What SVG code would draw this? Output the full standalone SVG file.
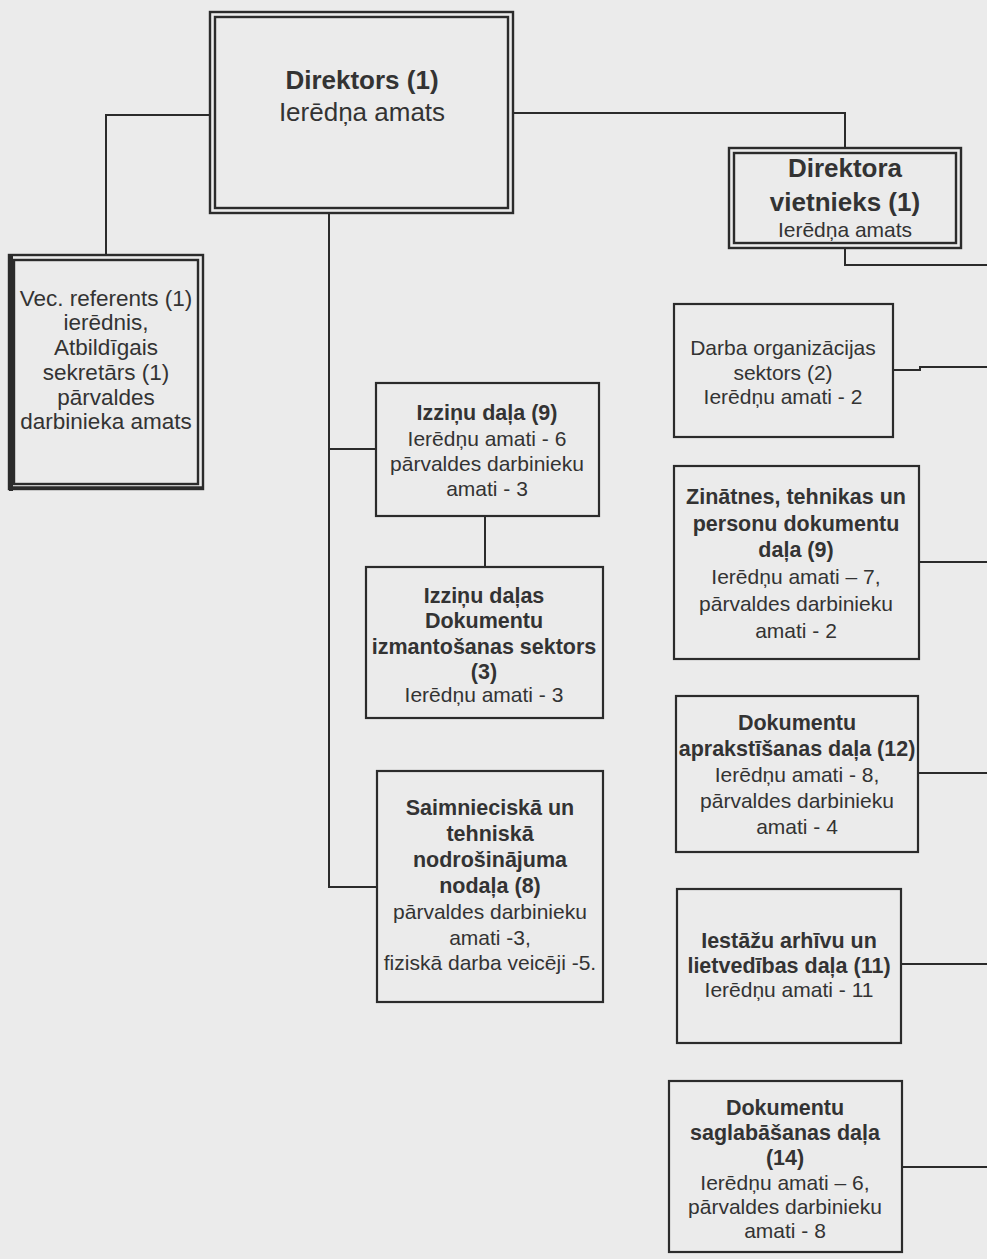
<svg xmlns="http://www.w3.org/2000/svg" width="987" height="1259" viewBox="0 0 987 1259">
<style>
.bg{fill:#ebebeb}
.box{fill:none;stroke:#2b2b2b;stroke-width:2.2}
.dbl{fill:none;stroke:#2b2b2b;stroke-width:2.4}
.con{fill:none;stroke:#2b2b2b;stroke-width:2}
text{font-family:"Liberation Sans",Arial,sans-serif;fill:#333;text-anchor:middle}
.t{font-size:21px}
.b{font-size:21.5px;font-weight:bold}
.big{font-size:26px}
.bigb{font-size:26px;font-weight:bold}
.l{font-size:22.5px}
</style>
<rect class="bg" x="0" y="0" width="987" height="1259"/>
<g id="connectors">
<polyline class="con" points="210,115 106,115 106,255"/>
<polyline class="con" points="513,113 845,113 845,148"/>
<polyline class="con" points="845,248 845,265 987,265"/>
<polyline class="con" points="329,213 329,887 377,887"/>
<line class="con" x1="329" y1="449" x2="376" y2="449"/>
<line class="con" x1="485" y1="516" x2="485" y2="567"/>
<polyline class="con" points="893,370 920,370 920,367 987,367"/>
<line class="con" x1="919" y1="562" x2="987" y2="562"/>
<line class="con" x1="918" y1="773" x2="987" y2="773"/>
<line class="con" x1="901" y1="964" x2="987" y2="964"/>
<line class="con" x1="902" y1="1167" x2="987" y2="1167"/>
</g>
<g id="direktors">
<rect class="dbl" x="210" y="12" width="303" height="201"/>
<rect class="dbl" x="215" y="17" width="293" height="191"/>
<text class="bigb" x="362" y="89">Direktors (1)</text>
<text class="big" x="362" y="121">Ierēdņa amats</text>
</g>
<g id="vietnieks">
<rect class="dbl" x="729" y="148" width="232" height="100"/>
<rect class="dbl" x="734" y="153" width="222" height="90"/>
<text class="bigb" x="845" y="177">Direktora</text>
<text class="bigb" x="845" y="211">vietnieks (1)</text>
<text class="t" x="845" y="237">Ierēdņa amats</text>
</g>
<g id="referents">
<rect class="dbl" x="9" y="255" width="194" height="234"/>
<rect class="dbl" x="14" y="260" width="184" height="224"/>
<line class="con" x1="11" y1="255" x2="11" y2="491" style="stroke-width:4"/>
<line class="con" x1="9" y1="488" x2="203" y2="488" style="stroke-width:3.5"/>
<text class="l" x="106" y="306">Vec. referents (1)</text>
<text class="l" x="106" y="330">ierēdnis,</text>
<text class="l" x="106" y="355">Atbildīgais</text>
<text class="l" x="106" y="380">sekretārs (1)</text>
<text class="l" x="106" y="405">pārvaldes</text>
<text class="l" x="106" y="429">darbinieka amats</text>
</g>
<g id="izzinu">
<rect class="box" x="376" y="383" width="223" height="133"/>
<text class="b" x="487" y="420">Izziņu daļa (9)</text>
<text class="t" x="487" y="446">Ierēdņu amati - 6</text>
<text class="t" x="487" y="471">pārvaldes darbinieku</text>
<text class="t" x="487" y="496">amati - 3</text>
</g>
<g id="sektors">
<rect class="box" x="366" y="567" width="237" height="151"/>
<text class="b" x="484" y="603">Izziņu daļas</text>
<text class="b" x="484" y="628">Dokumentu</text>
<text class="b" x="484" y="654">izmantošanas sektors</text>
<text class="b" x="484" y="679">(3)</text>
<text class="t" x="484" y="702">Ierēdņu amati - 3</text>
</g>
<g id="saimnieciska">
<rect class="box" x="377" y="771" width="226" height="231"/>
<text class="b" x="490" y="815">Saimnieciskā un</text>
<text class="b" x="490" y="841">tehniskā</text>
<text class="b" x="490" y="867">nodrošinājuma</text>
<text class="b" x="490" y="893">nodaļa (8)</text>
<text class="t" x="490" y="919">pārvaldes darbinieku</text>
<text class="t" x="490" y="945">amati -3,</text>
<text class="t" x="490" y="970">fiziskā darba veicēji -5.</text>
</g>
<g id="darba">
<rect class="box" x="674" y="304" width="219" height="133"/>
<text class="t" x="783" y="355">Darba organizācijas</text>
<text class="t" x="783" y="380">sektors (2)</text>
<text class="t" x="783" y="404">Ierēdņu amati - 2</text>
</g>
<g id="zinatnes">
<rect class="box" x="674" y="466" width="245" height="193"/>
<text class="b" x="796" y="504">Zinātnes, tehnikas un</text>
<text class="b" x="796" y="531">personu dokumentu</text>
<text class="b" x="796" y="557">daļa (9)</text>
<text class="t" x="796" y="584">Ierēdņu amati – 7,</text>
<text class="t" x="796" y="611">pārvaldes darbinieku</text>
<text class="t" x="796" y="638">amati - 2</text>
</g>
<g id="aprakstisanas">
<rect class="box" x="676" y="696" width="242" height="156"/>
<text class="b" x="797" y="730">Dokumentu</text>
<text class="b" x="797" y="756">aprakstīšanas daļa (12)</text>
<text class="t" x="797" y="782">Ierēdņu amati - 8,</text>
<text class="t" x="797" y="808">pārvaldes darbinieku</text>
<text class="t" x="797" y="834">amati - 4</text>
</g>
<g id="iestazu">
<rect class="box" x="677" y="889" width="224" height="154"/>
<text class="b" x="789" y="948">Iestāžu arhīvu un</text>
<text class="b" x="789" y="973">lietvedības daļa (11)</text>
<text class="t" x="789" y="997">Ierēdņu amati - 11</text>
</g>
<g id="saglabasanas">
<rect class="box" x="669" y="1081" width="233" height="171"/>
<text class="b" x="785" y="1115">Dokumentu</text>
<text class="b" x="785" y="1140">saglabāšanas daļa</text>
<text class="b" x="785" y="1165">(14)</text>
<text class="t" x="785" y="1190">Ierēdņu amati – 6,</text>
<text class="t" x="785" y="1214">pārvaldes darbinieku</text>
<text class="t" x="785" y="1238">amati - 8</text>
</g>
</svg>
